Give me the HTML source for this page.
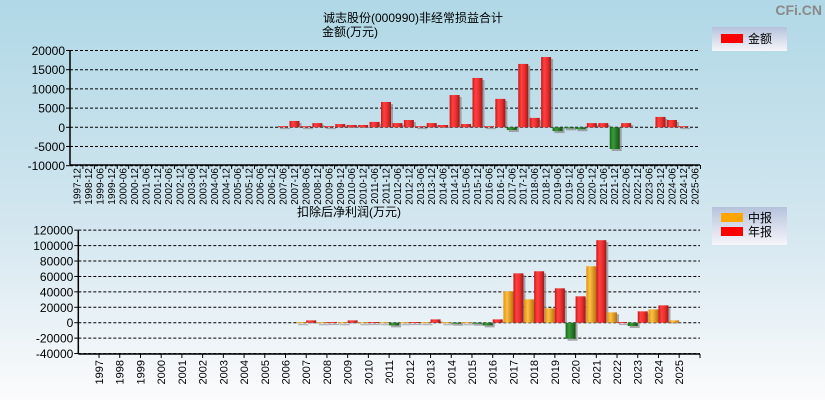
<!DOCTYPE html>
<html><head><meta charset="utf-8"><style>
html,body{margin:0;padding:0;}
body{width:825px;height:400px;overflow:hidden;background:linear-gradient(#b0d8e6,#d2e6ef 55%,#fbfbfc);font-family:"Liberation Sans","Noto Sans CJK SC",sans-serif;}
svg{position:absolute;left:0;top:0;}
text{font-family:"Liberation Sans","Noto Sans CJK SC",sans-serif;}
</style></head><body>
<svg id="c" width="825" height="400" xmlns="http://www.w3.org/2000/svg">
<defs>
<linearGradient id="gR" x1="0" x2="1"><stop offset="0" stop-color="#c81818"/><stop offset="0.3" stop-color="#ff4040"/><stop offset="0.6" stop-color="#f03030"/><stop offset="1" stop-color="#a01818"/></linearGradient>
<linearGradient id="gG" x1="0" x2="1"><stop offset="0" stop-color="#1a6a1a"/><stop offset="0.35" stop-color="#3a9a3a"/><stop offset="1" stop-color="#145214"/></linearGradient>
<linearGradient id="gO" x1="0" x2="1"><stop offset="0" stop-color="#e09010"/><stop offset="0.35" stop-color="#ffc040"/><stop offset="1" stop-color="#b87010"/></linearGradient>
<linearGradient id="gL" x1="0" x2="0" y1="0" y2="1"><stop offset="0" stop-color="#b6c2dc"/><stop offset="1" stop-color="#f6f6fa"/></linearGradient>
</defs>
<text x="822" y="15" text-anchor="end" font-size="14" font-weight="bold" fill="#8a8a8a">CFi.CN</text>
<text x="323" y="22" font-size="12" fill="#000">诚志股份(000990)非经常损益合计</text>
<text x="322" y="36" font-size="12" fill="#000">金额(万元)</text>
<text x="297" y="216" font-size="12" fill="#000">扣除后净利润(万元)</text>
<g>
<rect x="712" y="27" width="75" height="24" fill="url(#gL)"/>
<rect x="721" y="34" width="22" height="9" fill="#ff0000"/>
<text x="748" y="43" font-size="12">金额</text>
</g>
<g>
<rect x="712" y="207" width="75" height="38" fill="url(#gL)"/>
<rect x="721" y="213" width="22" height="9" fill="#ffa500"/>
<text x="748" y="222" font-size="12">中报</text>
<rect x="721" y="227" width="22" height="9" fill="#ff0000"/>
<text x="748" y="236" font-size="12">年报</text>
</g>
<g id="top"></g><g id="bot"></g>
</svg>
<script>
const topCats=["1997-12","1998-12"];
for(let y=1999;y<=2025;y++){topCats.push(y+"-06");if(y<2025)topCats.push(y+"-12");}
const topVals=[0,0,0,0,0,0,0,0,0,0,0,0,0,0,0,0,0,0,300,1650,300,1100,300,850,600,600,1400,6600,1100,1900,300,1100,600,8400,850,12850,300,7400,-700,16500,2450,18300,-1000,-250,-500,1100,1100,-5650,1100,0,0,2700,1900,300,0];
const topTicks=[20000,15000,10000,5000,0,-5000,-10000];
const botCats=[];for(let y=1997;y<=2025;y++)botCats.push(String(y));
const interimVals=[0,0,0,0,0,0,0,0,0,0,600,600,600,600,600,600,600,600,600,-3500,40700,30300,18600,-20800,73200,13400,-4300,17300,3000];
const annualVals=[0,0,0,0,0,0,0,0,0,0,3000,800,3000,800,-3500,800,4300,-1000,-1000,4300,64000,66700,44600,34200,107000,800,14700,22500,null];
const botTicks=[120000,100000,80000,60000,40000,20000,0,-20000,-40000];
const NS="http://www.w3.org/2000/svg";
function mk(p,t,a){const e=document.createElementNS(NS,t);for(const k in a)e.setAttribute(k,a[k]);p.appendChild(e);return e;}
function axes(g,L,R,yT,yB,ticks,yS,name){
  ticks.forEach(t=>{const y=yS(t);
    const l=mk(g,"line",{x1:L,x2:R,y1:y,y2:y,stroke:"#000","stroke-dasharray":"3,2","stroke-width":1});
    
    
    mk(g,"line",{x1:L-4,x2:L,y1:y,y2:y,stroke:"#000"});
    const tx=mk(g,"text",{x:L-5,y:y+4.5,"text-anchor":"end","font-size":12,fill:"#000"});tx.textContent=t;
    
    
  });
  mk(g,"line",{x1:L,x2:L,y1:yT,y2:yB,stroke:"#000","stroke-width":1.5});
  mk(g,"line",{x1:L,x2:R,y1:yB,y2:yB,stroke:"#000","stroke-width":1.5});
}
function bar(g,x,w,v,yS,fill,name){
  if(v===null||v===0)return;
  const y0=yS(0),y1=yS(v);let top=Math.min(y0,y1),h=Math.max(Math.abs(y1-y0),1);
  mk(g,"rect",{x:x+2,y:top+(v>0?2:0),width:w,height:Math.max(h-(v>0?2:-2),1),fill:"#888","opacity":0.7});
  const r=mk(g,"rect",{x:x,y:top,width:w,height:h,fill:v<0?"url(#gG)":fill});
  
  
}
(function(){const g=document.getElementById("top");
  const L=70,R=700,yT=50,yB=165;const yS=v=>127.3-v*19.2/5000;
  axes(g,L,R,yT,yB,topTicks,yS,"top");
  const n=topCats.length,bw=(R-L-1)/n;const x0=L+1.5;
  topCats.forEach((c,i)=>{const cx=x0+bw*(i+0.5);
    mk(g,"line",{x1:x0+bw*(i+1),x2:x0+bw*(i+1),y1:yB,y2:yB+4,stroke:"#000"});
    bar(g,cx-5,10,topVals[i],yS,"url(#gR)","bar-"+c);
    const t=mk(g,"text",{x:0,y:0,"font-size":10,fill:"#000","text-anchor":"end",transform:`translate(${cx+3.5},${yB+3}) rotate(-90)`});t.textContent=c;
    
    
  });
})();
(function(){const g=document.getElementById("bot");
  const L=78.3,R=700,yT=230.7,yB=354;const yS=v=>322.7-v*15.42/20000;
  axes(g,L,R,yT,yB,botTicks,yS,"bottom");
  const bw=20.72;
  botCats.forEach((c,i)=>{const cx=L+bw*(i+1);
    mk(g,"line",{x1:cx,x2:cx,y1:yB,y2:yB+4,stroke:"#000"});
    bar(g,cx-10,10,interimVals[i],yS,"url(#gO)","bar-interim-"+c);
    bar(g,cx,10,annualVals[i],yS,"url(#gR)","bar-annual-"+c);
    const t=mk(g,"text",{x:0,y:0,"font-size":11,fill:"#000","text-anchor":"end",transform:`translate(${cx+4},${yB+6}) rotate(-90)`});t.textContent=c;
    
    
  });
  mk(g,"line",{x1:R,x2:R,y1:yB,y2:yB+4,stroke:"#000"});
})();
</script>
</body></html>
